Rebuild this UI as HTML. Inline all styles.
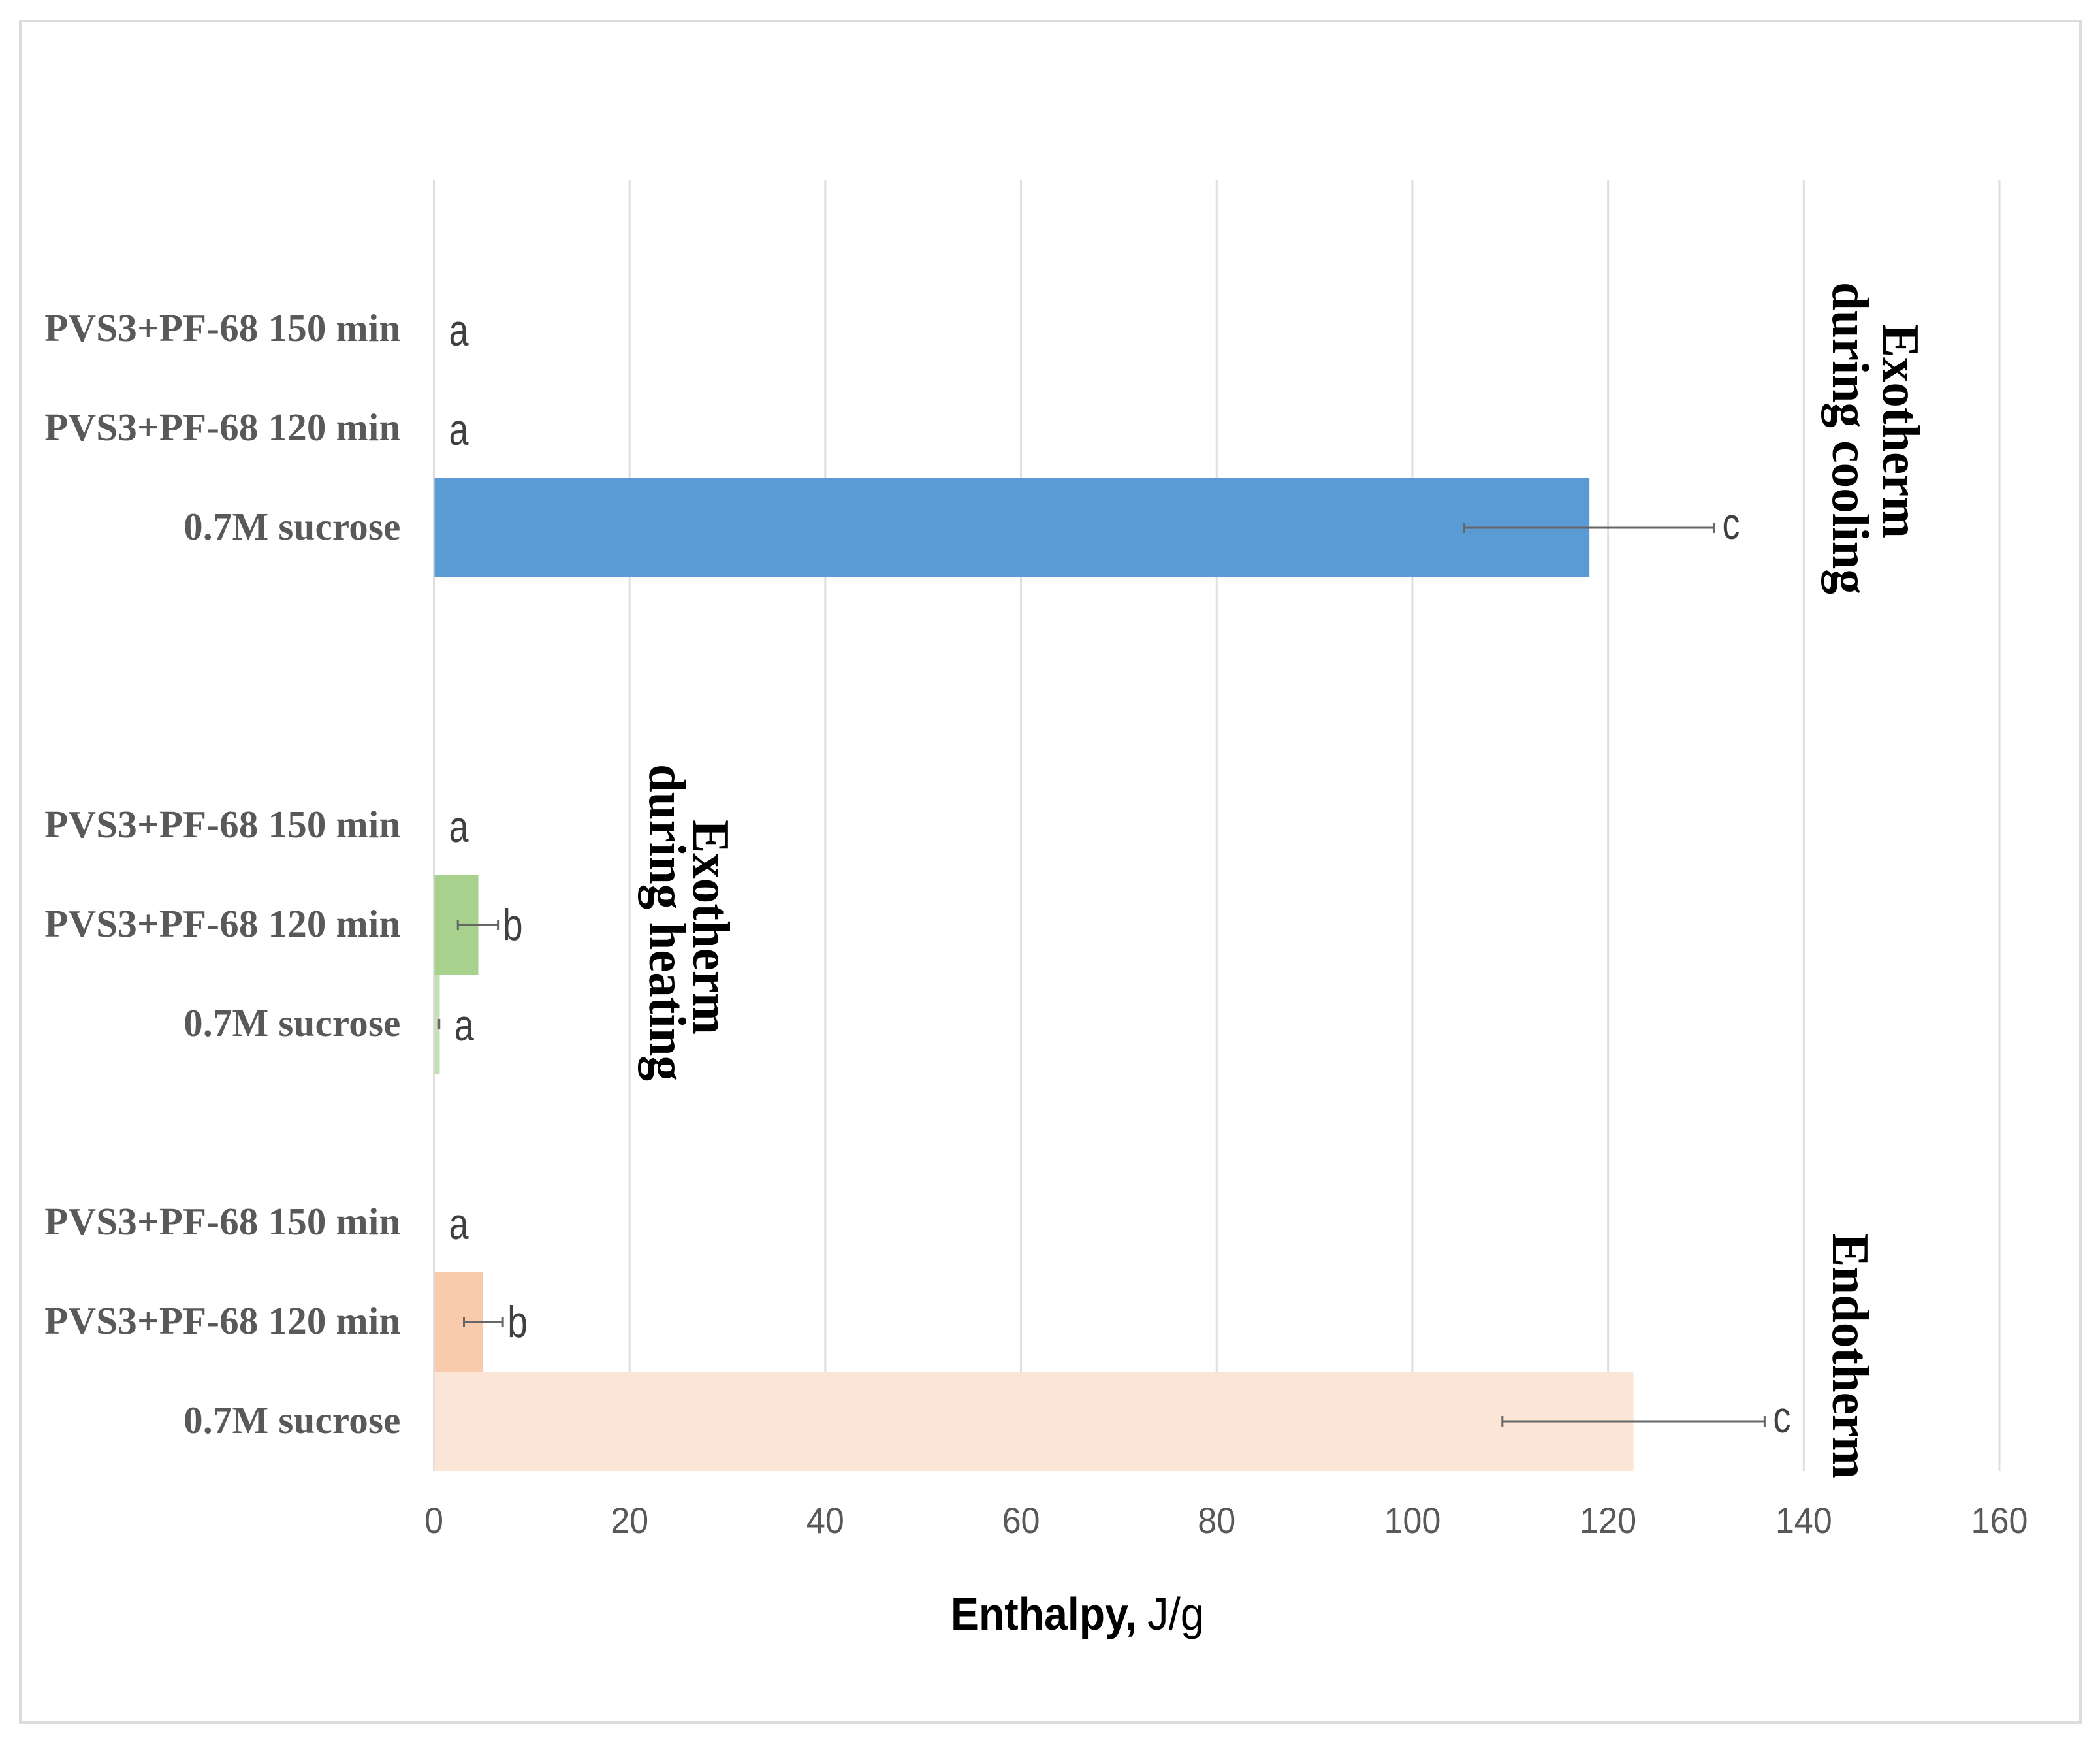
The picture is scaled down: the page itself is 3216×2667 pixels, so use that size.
<!DOCTYPE html>
<html lang="en">
<head>
<meta charset="utf-8">
<title>Enthalpy chart</title>
<style>
  html, body { margin: 0; padding: 0; background: #ffffff; }
  body { width: 3216px; height: 2667px; overflow: hidden; }
  svg { display: block; }
  .row-label { font-family: "Liberation Serif", serif; font-weight: 700; font-size: 59px; letter-spacing: 0.2px; fill: #595959; }
  .tick-label { font-family: "Liberation Sans", sans-serif; font-size: 56px; fill: #595959; }
  .letter { font-family: "Liberation Sans", sans-serif; font-size: 68px; fill: #404040; }
  .group-title { font-family: "Liberation Serif", serif; font-weight: 700; font-size: 80px; fill: #000000; }
  .axis-title { font-family: "Liberation Sans", sans-serif; font-size: 70px; fill: #000000; }
</style>
</head>
<body>
<svg id="chart" xmlns="http://www.w3.org/2000/svg" width="3216" height="2667" viewBox="0 0 3216 2667">
  <rect x="31" y="32" width="3155" height="2605" fill="#ffffff" stroke="#dcdcdc" stroke-width="4"/>
  <g id="grid"></g>
  <g id="bars"></g>
  <g id="errors"></g>
  <g id="rows"></g>
  <g id="letters"></g>
  <g id="ticks"></g>

  <text class="axis-title" x="1456" y="2495" font-weight="700" textLength="285" lengthAdjust="spacingAndGlyphs">Enthalpy,</text>
  <text class="axis-title" x="1757" y="2495" textLength="87" lengthAdjust="spacingAndGlyphs">J/g</text>

  <text class="group-title" transform="translate(2884,496) rotate(90)" textLength="328" lengthAdjust="spacingAndGlyphs">Exotherm</text>
  <text class="group-title" transform="translate(2807,432) rotate(90)" textLength="478" lengthAdjust="spacingAndGlyphs">during cooling</text>
  <text class="group-title" transform="translate(1062,1255) rotate(90)" textLength="329" lengthAdjust="spacingAndGlyphs">Exotherm</text>
  <text class="group-title" transform="translate(995,1170) rotate(90)" textLength="485" lengthAdjust="spacingAndGlyphs">during heating</text>
  <text class="group-title" transform="translate(2807,1888) rotate(90)" textLength="376" lengthAdjust="spacingAndGlyphs">Endotherm</text>
</svg>
<script>
// Chart data, top row to bottom row (empty strings are spacer rows)
const categories = ['', 'PVS3+PF-68 150 min', 'PVS3+PF-68 120 min', '0.7M sucrose', '', '', 'PVS3+PF-68 150 min', 'PVS3+PF-68 120 min', '0.7M sucrose', '', 'PVS3+PF-68 150 min', 'PVS3+PF-68 120 min', '0.7M sucrose'];
const enthalpyValues = [null, 0, 0, 118.1, null, null, 0, 4.54, 0.6, null, 0, 5.0, 122.6];
const errorLow = [null, null, null, 105.3, null, null, null, 2.45, 0.45, null, null, 3.07, 109.2];
const errorHigh = [null, null, null, 130.8, null, null, null, 6.55, 0.55, null, null, 7.05, 136.0];
const significance = ['', 'a', 'a', 'c', '', '', 'a', 'b', 'a', '', 'a', 'b', 'c'];
const tickValues = [0, 20, 40, 60, 80, 100, 120, 140, 160];

// Layout and style
const NS = 'http://www.w3.org/2000/svg';
const plotLeft = 664.5, plotRight = 3062, plotTop = 276, plotBottom = 2252, axisMax = 160;
const rowFills = [null, null, null, '#5b9bd5', null, null, null, '#a9d18e', '#c5e0b4', null, null, '#f8cbad', '#fbe5d6'];
const letterGap = { a: 23, b: 7, c: 13 };
const letterDrop = { a: 25, b: 23, c: 17 };
const letterWidth = { a: 30, b: 31, c: 27 };

function xScale(v) { return plotLeft + (v / axisMax) * (plotRight - plotLeft); }
function rowHeight() { return (plotBottom - plotTop) / categories.length; }
function rowTop(i) { return plotTop + i * rowHeight(); }
function rowCenter(i) { return rowTop(i) + rowHeight() / 2; }

function make(tag, attrs, parentId) {
  const el = document.createElementNS(NS, tag);
  Object.keys(attrs).forEach(function (k) { el.setAttribute(k, attrs[k]); });
  document.getElementById(parentId).appendChild(el);
  return el;
}

tickValues.forEach(function (t) {
  const x = xScale(t);
  const line = make('line', { x1: x, x2: x, y1: plotTop, y2: plotBottom, stroke: '#dedede', 'stroke-width': 3 }, 'grid');
  
  
  const s = String(t);
  const w = s.length * 29;
  const label = make('text', { x: x - w / 2, y: 2347, class: 'tick-label', textLength: w, lengthAdjust: 'spacingAndGlyphs' }, 'ticks');
  label.textContent = s;
  
  
});

categories.forEach(function (name, i) {
  if (!name) { return; }
  const cy = rowCenter(i);

  const label = make('text', { x: 613.5, y: cy + 18, class: 'row-label', 'text-anchor': 'end' }, 'rows');
  label.textContent = name;
  
  

  const value = enthalpyValues[i];
  if (value > 0) {
    const bar = make('rect', { x: xScale(0) + 1, y: rowTop(i), width: xScale(value) - xScale(0) - 1, height: rowHeight(), fill: rowFills[i] }, 'bars');
    
    
  }

  let anchorValue = value;
  if (errorHigh[i] !== null) {
    anchorValue = errorHigh[i];
    const xa = xScale(errorLow[i]);
    const xb = xScale(errorHigh[i]);
    const stem = make('line', { x1: xa, x2: xb, y1: cy, y2: cy, stroke: '#666666', 'stroke-width': 3 }, 'errors');
    
    
    const capLow = make('line', { x1: xa, x2: xa, y1: cy - 8, y2: cy + 8, stroke: '#666666', 'stroke-width': 3 }, 'errors');
    
    
    const capHigh = make('line', { x1: xb, x2: xb, y1: cy - 8, y2: cy + 8, stroke: '#666666', 'stroke-width': 3 }, 'errors');
    
    
  }

  const letter = significance[i];
  const letterEl = make('text', { x: xScale(anchorValue) + letterGap[letter], y: cy + letterDrop[letter], class: 'letter', textLength: letterWidth[letter], lengthAdjust: 'spacingAndGlyphs' }, 'letters');
  letterEl.textContent = letter;
  
  
});
</script>
</body>
</html>
